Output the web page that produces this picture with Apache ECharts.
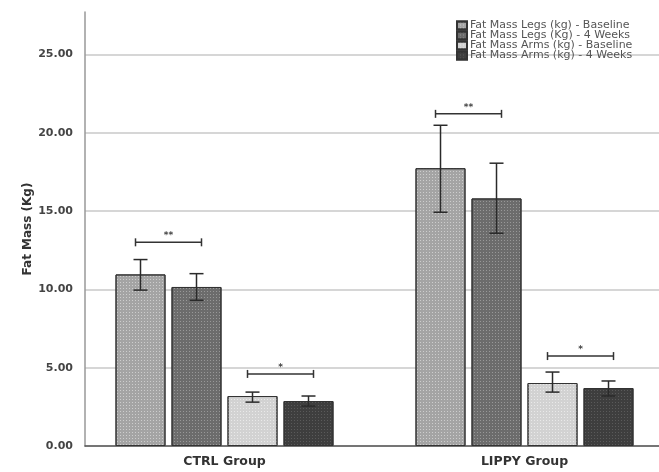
<!DOCTYPE html>
<html>
<head>
<meta charset="utf-8">
<script src="https://cdn.jsdelivr.net/npm/echarts@6/dist/echarts.min.js"></script>
<style>
  html, body { margin: 0; padding: 0; background: #fff; }
  #chart { width: 659px; height: 472px; }
</style>
</head>
<body>
<div id="chart"></div>
<script>
// 分组与系列
const groups = ['CTRL Group', 'LIPPY Group']
const seriesNames = [
  'Fat Mass Legs (kg) - Baseline',
  'Fat Mass Legs (Kg) - 4 Weeks',
  'Fat Mass Arms (kg) - Baseline',
  'Fat Mass Arms (kg) - 4 Weeks'
]
// 均值 (每个系列: [CTRL, LIPPY])
const legsBase = [10.95, 17.73]
const legsWeek4 = [10.15, 15.8]
const armsBase = [3.19, 4.02]
const armsWeek4 = [2.87, 3.7]
// 误差棒 [低, 高]
const legsBaseErr = [[9.95, 11.9], [14.92, 20.47]]
const legsWeek4Err = [[9.3, 11.0], [13.58, 18.05]]
const armsBaseErr = [[2.8, 3.44], [3.44, 4.72]]
const armsWeek4Err = [[2.55, 3.19], [3.19, 4.15]]
// 显著性标记: [组, 系列A, 系列B, 高度, 文字]
const sigMarks = [
  [0, 0, 1, 13.0, '**'],
  [0, 2, 3, 4.6, '*'],
  [1, 0, 1, 21.2, '**'],
  [1, 2, 3, 5.74, '*']
]
const yTicks = [0, 5, 10, 15, 20, 25]

const allValues = [legsBase, legsWeek4, armsBase, armsWeek4]
const allErrs = [legsBaseErr, legsWeek4Err, armsBaseErr, armsWeek4Err]
const fills = ['#a4a4a4', '#6c6c6c', '#d2d2d2', '#3e3e3e']
const dots = ['rgba(255,255,255,0.45)', 'rgba(255,255,255,0.3)', 'rgba(255,255,255,0.5)', 'rgba(255,255,255,0.15)']

const BAR_W = 50
const BAR_STEP = 56 // 柱宽 + 间距
const offsetOf = (i) => (i - 1.5) * BAR_STEP
const FONT = 'DejaVu Sans, Liberation Sans, sans-serif'

const chart = echarts.init(document.getElementById('chart'))

const barSeries = allValues.map((vals, i) => ({
  name: seriesNames[i],
  type: 'bar',
  barWidth: BAR_W,
  barGap: '12%',
  data: vals.map((v, g) => [g, v]),
  itemStyle: {
    color: fills[i],
    borderColor: '#333',
    borderWidth: 1,
    decal: {
      symbol: 'rect',
      symbolSize: 1,
      dashArrayX: [1, 2],
      dashArrayY: [1, 2],
      color: dots[i]
    }
  },
  emphasis: { disabled: true },
  z: 2
}))

// 误差棒
const errData = []
allErrs.forEach((errs, i) => {
  errs.forEach((e, g) => errData.push([g, e[0], e[1], i]))
})
const errSeries = {
  type: 'custom',
  data: errData,
  z: 5,
  silent: true,
  renderItem: (params, api) => {
    const off = offsetOf(api.value(3))
    const lo = api.coord([api.value(0), api.value(1)])
    const hi = api.coord([api.value(0), api.value(2)])
    const x = lo[0] + off
    const cap = 7
    const style = { stroke: '#2a2a2a', lineWidth: 1.5 }
    return {
      type: 'group',
      children: [
        { type: 'line', shape: { x1: x, y1: lo[1], x2: x, y2: hi[1] }, style },
        { type: 'line', shape: { x1: x - cap, y1: hi[1], x2: x + cap, y2: hi[1] }, style },
        { type: 'line', shape: { x1: x - cap, y1: lo[1], x2: x + cap, y2: lo[1] }, style }
      ]
    }
  }
}

// 显著性括号
const sigSeries = {
  type: 'custom',
  data: sigMarks.map((m) => [m[0], m[3], m[1], m[2]]),
  z: 6,
  silent: true,
  renderItem: (params, api) => {
    const p = api.coord([api.value(0), api.value(1)])
    const x1 = p[0] + offsetOf(api.value(2)) - 5
    const x2 = p[0] + offsetOf(api.value(3)) + 5
    const y = p[1]
    const style = { stroke: '#333', lineWidth: 1.5 }
    const label = sigMarks[params.dataIndex][4]
    return {
      type: 'group',
      children: [
        { type: 'line', shape: { x1: x1, y1: y, x2: x2, y2: y }, style },
        { type: 'line', shape: { x1: x1, y1: y - 4, x2: x1, y2: y + 4 }, style },
        { type: 'line', shape: { x1: x2, y1: y - 4, x2: x2, y2: y + 4 }, style },
        {
          type: 'text',
          style: {
            x: (x1 + x2) / 2, y: y - 2, text: label,
            fill: '#444', font: 'bold 9px ' + FONT,
            align: 'center', verticalAlign: 'bottom'
          }
        }
      ]
    }
  }
}

const option = {
  animation: false,
  grid: { left: 85, right: 0, top: 12, bottom: 26 },
  legend: {
    orient: 'vertical',
    left: 456,
    top: 20,
    padding: 0,
    itemWidth: 10,
    itemHeight: 8,
    itemGap: -1,
    icon: 'rect',
    data: seriesNames,
    textStyle: { fontSize: 11, lineHeight: 10, color: '#555', fontFamily: FONT, padding: [0, 0, 0, -2] }
  },
  xAxis: {
    type: 'value',
    min: -0.465,
    max: 1.4483,
    axisLine: { show: true, onZero: false, lineStyle: { color: '#555', width: 1.5 } },
    axisTick: { show: false },
    splitLine: { show: false },
    axisLabel: {
      customValues: [0, 1],
      formatter: (v) => groups[Math.round(v)] || '',
      color: '#333',
      fontSize: 12.5,
      fontWeight: 'bold',
      fontFamily: FONT,
      margin: 9
    }
  },
  yAxis: {
    type: 'value',
    min: 0,
    max: 27.7,
    interval: 5,
    name: 'Fat Mass (Kg)',
    nameLocation: 'middle',
    nameGap: 51,
    nameMoveOverlap: false,
    nameTextStyle: { fontSize: 12, fontWeight: 'bold', color: '#333', fontFamily: FONT },
    axisLine: { show: true, onZero: false, lineStyle: { color: '#999', width: 1.5 } },
    axisTick: { show: false },
    axisLabel: {
      showMaxLabel: false,
      formatter: (v) => (yTicks.indexOf(v) >= 0 ? v.toFixed(2) : ''),
      color: '#444',
      fontSize: 11,
      fontWeight: 'bold',
      fontFamily: FONT,
      margin: 12
    },
    splitLine: { show: true, showMaxLine: false, lineStyle: { color: '#c8c8c8', width: 1.5 } }
  },
  series: [...barSeries, errSeries, sigSeries]
}

chart.setOption(option)
</script>
</body>
</html>
